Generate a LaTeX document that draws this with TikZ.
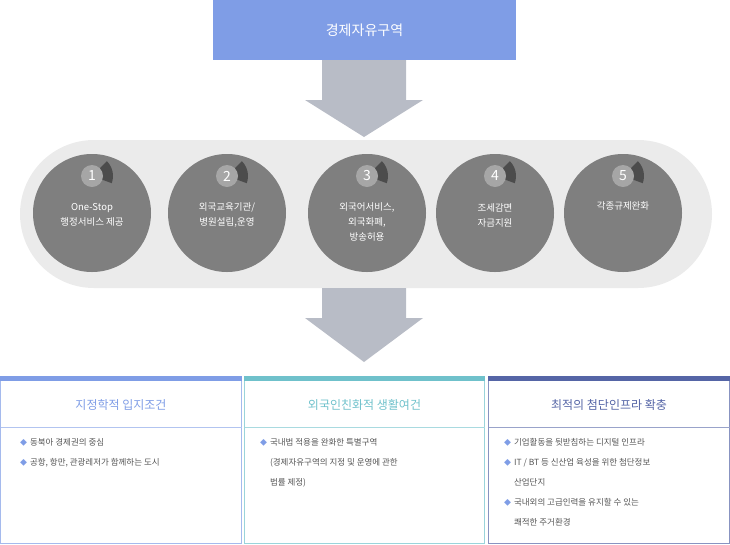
\documentclass[tikz,border=0pt]{standalone}
\usepackage{fontspec}
\setmainfont{Noto Sans CJK KR}
\begin{document}
\begin{tikzpicture}[x=1pt,y=-1pt,
  circ/.style={circle,fill=cgray,minimum size=118pt,inner sep=0pt,text=white,font=\fontsize{9.5}{13}\selectfont,align=center},
  badge/.style={circle,fill=bgray,minimum size=22pt,inner sep=0pt,text=white,font=\fontsize{14}{14}\selectfont},
  ttl/.style={font=\fontsize{12}{14}\selectfont},
  bul/.style={anchor=north west,font=\fontsize{8.5}{20}\selectfont,text=tgray,align=left,inner sep=0pt}]
\definecolor{topc}{HTML}{7F9DE6}
\definecolor{arr}{HTML}{B8BCC6}
\definecolor{pill}{HTML}{EBEBEB}
\definecolor{cgray}{HTML}{7F7F7F}
\definecolor{bgray}{HTML}{A6A6A6}
\definecolor{tgray}{HTML}{555555}
\definecolor{cA}{HTML}{7F9DE6}
\definecolor{cB}{HTML}{6FC1CB}
\definecolor{cC}{HTML}{5565A6}
\useasboundingbox (0,0) rectangle (730,544);
\fill[topc] (213,0) rectangle (516,60);
\node[text=white,font=\fontsize{14}{16}\selectfont] (top) at (364.5,30) {경제자유구역};
\fill[arr] (322,60) -- (406,60) -- (406,100) -- (423,100) -- (364,137) -- (305,100) -- (322,100) -- cycle;
\fill[pill,rounded corners=74pt] (20,140) rectangle (712,288);
\foreach \i/\x/\t in {1/92/{One-Stop\\행정서비스 제공},2/227/{외국교육기관/\\병원설립,운영},3/367/{외국어서비스,\\외국화폐,\\방송허용},4/495/{조세감면\\자금지원},5/623/{각종규제완화}}{
  \node[circ] (c\i) at (\x,213) {};
  \fill[black!40!cgray] (\x,176) -- ++(-45:11) -- ++(-45:10) arc(-45:20:21) -- cycle;
  \node[badge] (b\i) at (\x,176) {\i};
}
\node[text=white,font=\fontsize{9.5}{15}\selectfont,align=center] (t1) at (92,215) {One-Stop\\행정서비스 제공};
\node[text=white,font=\fontsize{9.5}{15}\selectfont,align=center] (t2) at (227,215) {외국교육기관/\\병원설립,운영};
\node[text=white,font=\fontsize{9.5}{15}\selectfont,align=center] (t3) at (367,222) {외국어서비스,\\외국화폐,\\방송허용};
\node[text=white,font=\fontsize{9.5}{15}\selectfont,align=center] (t4) at (495,215) {조세감면\\자금지원};
\node[text=white,font=\fontsize{9.5}{15}\selectfont,align=center] (t5) at (623,206) {각종규제완화};
\fill[arr] (322,288) -- (406,288) -- (406,318) -- (423,318) -- (364,362) -- (305,318) -- (322,318) -- cycle;
% boxes
\foreach \c/\a/\b in {cA/0/242,cB/244/485,cC/488/730}{
  \draw[\c!70,line width=1pt] (\a+0.5,377) rectangle (\b-0.5,543.5);
  \draw[\c!60,line width=0.6pt] (\a+0.5,427) -- (\b-0.5,427);
  \fill[\c] (\a,376) rectangle (\b,380.5);
}
\node[ttl,text=cA] (h1) at (121,405) {지정학적 입지조건};
\node[ttl,text=cB] (h2) at (364.5,405) {외국인친화적 생활여건};
\node[ttl,text=cC] (h3) at (609,405) {최적의 첨단인프라 확충};
\node[bul] (l1) at (20,438) {\textcolor{cA}{\scriptsize◆}\,\,동북아 경제권의 중심\\\textcolor{cA}{\scriptsize◆}\,\,공항, 항만, 관광레저가 함께하는 도시};
\node[bul] (l2) at (260,438) {\textcolor{cA}{\scriptsize◆}\,\,국내법 적용을 완화한 특별구역\\\phantom{\scriptsize◆}\,\,(경제자유구역의 지정 및 운영에 관한\\\phantom{\scriptsize◆}\,\,법률 제정)};
\node[bul] (l3) at (504,438) {\textcolor{cA}{\scriptsize◆}\,\,기업활동을 뒷받침하는 디지털 인프라\\\textcolor{cA}{\scriptsize◆}\,\,IT / BT 등 신산업 육성을 위한 첨단정보\\\phantom{\scriptsize◆}\,\,산업단지\\\textcolor{cA}{\scriptsize◆}\,\,국내외의 고급인력을 유지할 수 있는\\\phantom{\scriptsize◆}\,\,쾌적한 주거환경};
\end{tikzpicture}
\end{document}
